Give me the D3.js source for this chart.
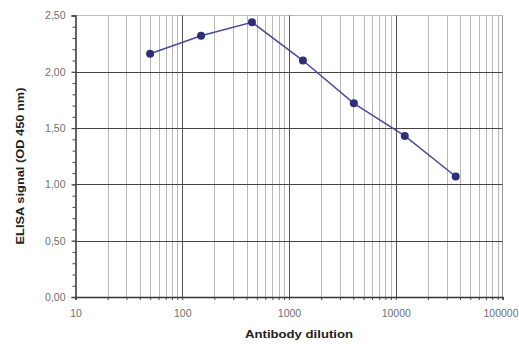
<!DOCTYPE html>
<html><head><meta charset="utf-8">
<script src="https://cdn.jsdelivr.net/npm/d3@7"></script>
<style>body{margin:0;background:#fff}svg{display:block}</style>
</head><body>
<svg id="c" width="519" height="344"></svg>
<script>
const dilutions = [50, 150, 450, 1350, 4050, 12150, 36450];
const signals = [2.16, 2.32, 2.44, 2.10, 1.72, 1.43, 1.07];
const yTicks = [0, 0.5, 1.0, 1.5, 2.0, 2.5];
const xTicks = [10, 100, 1000, 10000, 100000];
const xTitle = "Antibody dilution";
const yTitle = "ELISA signal (OD 450 nm)";

const svg = d3.select("#c");
const L = 75.5, R = 502.5, T = 15.5, B = 297;
const x = d3.scaleLog().domain([10, 100000]).range([L, R]);
const y = d3.scaleLinear().domain([0, 2.5]).range([B, T]);

// minor x grid
const minorX = [];
for (let d = 10; d < 100000; d *= 10) for (let k = 2; k <= 9; k++) minorX.push(d * k);
svg.append("g").selectAll("line").data(minorX).join("line")
  .attr("x1", d => Math.round(x(d)) + 0.5).attr("x2", d => Math.round(x(d)) + 0.5)
  .attr("y1", T).attr("y2", B)
  .attr("stroke", "#b8b8b8").attr("stroke-width", 1);
// top/right border
svg.append("line").attr("x1", L).attr("x2", R).attr("y1", T).attr("y2", T).attr("stroke", "#bbb");
svg.append("line").attr("x1", R).attr("x2", R).attr("y1", T).attr("y2", B).attr("stroke", "#999");
// major x grid
svg.append("g").selectAll("line").data(xTicks.slice(1, -1)).join("line")
  .attr("x1", d => Math.round(x(d)) + 0.5).attr("x2", d => Math.round(x(d)) + 0.5)
  .attr("y1", T).attr("y2", B).attr("stroke", "#555");
// major y grid
svg.append("g").selectAll("line").data(yTicks.slice(1, -1)).join("line")
  .attr("x1", L).attr("x2", R)
  .attr("y1", d => Math.round(y(d)) + 0.5).attr("y2", d => Math.round(y(d)) + 0.5)
  .attr("stroke", "#444");

// axes
const fmt = d => d3.format(".2f")(d).replace(".", ",");
const yAxis = svg.append("g").attr("transform", `translate(${L},0)`)
  .call(d3.axisLeft(y).tickValues(yTicks).tickFormat(fmt).tickSize(4).tickPadding(6));
const yMinor = svg.append("g").attr("transform", `translate(${L},0)`)
  .call(d3.axisLeft(y).tickValues(d3.range(0, 25).map(i => i / 10)).tickFormat("").tickSize(3));
yMinor.select(".domain").remove();
const xAxis = svg.append("g").attr("transform", `translate(0,${B})`)
  .call(d3.axisBottom(x).tickValues(xTicks).tickFormat(d3.format("d")).tickSize(3).tickPadding(10));
const xMinor = svg.append("g").attr("transform", `translate(0,${B})`)
  .call(d3.axisBottom(x).tickValues(minorX).tickFormat("").tickSize(3));
xMinor.select(".domain").remove();
svg.selectAll(".domain").attr("stroke", "#333").attr("stroke-width", 1.5);
svg.selectAll(".tick line").attr("stroke", "#444");
svg.selectAll(".tick text").attr("fill", "#707070").attr("font-family", "Liberation Sans, Arial, sans-serif").attr("font-size", 10.5);
xAxis.selectAll(".tick text").attr("dy", "0.71em");
// keep the last x label inside the picture
xAxis.selectAll(".tick text").filter(d => d === xTicks[xTicks.length - 1])
  .attr("text-anchor", "end").attr("x", 518 - R);

// series
const pts = dilutions.map((d, i) => [d, signals[i]]);
svg.append("path").datum(pts)
  .attr("d", d3.line().x(d => x(d[0])).y(d => y(d[1])))
  .attr("fill", "none").attr("stroke", "#4a4a9c").attr("stroke-width", 1.5);
svg.append("g").selectAll("circle").data(pts).join("circle")
  .attr("cx", d => x(d[0])).attr("cy", d => y(d[1])).attr("r", 4)
  .attr("fill", "#2e2e7a");

// titles
svg.append("text").attr("x", 299).attr("y", 338).attr("text-anchor", "middle")
  .attr("font-family", "Liberation Sans, Arial, sans-serif").attr("font-weight", "bold")
  .attr("font-size", 11.5).attr("fill", "#222")
  .attr("textLength", 108).attr("lengthAdjust", "spacingAndGlyphs").text(xTitle);
svg.append("text").attr("transform", "translate(24,166) rotate(-90)").attr("text-anchor", "middle")
  .attr("font-family", "Liberation Sans, Arial, sans-serif").attr("font-weight", "bold")
  .attr("font-size", 11.5).attr("fill", "#222")
  .attr("textLength", 157).attr("lengthAdjust", "spacingAndGlyphs").text(yTitle);
</script>
</body></html>
